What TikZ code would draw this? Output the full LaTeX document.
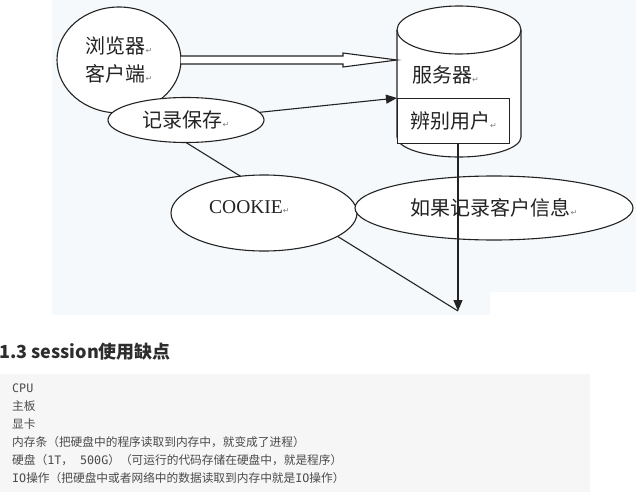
\documentclass[tikz,border=0pt]{standalone}
\usepackage{fontspec}
\setmainfont{Noto Sans CJK SC}
\newfontfamily\cjk{Noto Sans CJK SC}
\newfontfamily\mono{DejaVu Sans Mono}
\newfontfamily\tnr{Liberation Serif}
\newfontfamily\djv{DejaVu Sans}
\usetikzlibrary{shapes.geometric,arrows.meta,calc}
\definecolor{imgbg}{RGB}{245,249,252}
\definecolor{codebg}{RGB}{246,246,246}
\definecolor{ink}{RGB}{35,35,35}
\definecolor{codeink}{RGB}{75,75,75}
\definecolor{headink}{RGB}{45,45,45}
\newcommand{\retmark}{{\djv\fontsize{8}{8}\selectfont\color{gray}↵}}
\pgfdeclarelayer{back}
\pgfdeclarelayer{under}
\pgfsetlayers{back,under,main}
\tikzset{
  ell/.style={ellipse, draw=ink, fill=white, line width=1.1pt, inner sep=0pt, outer sep=0pt,
    font=\fontsize{20}{28}\selectfont, text=ink},
  conn/.style={draw=ink, line width=1.1pt},
  headtip/.style={-{Triangle[length=11pt,width=9pt]}},
  codeline/.style={anchor=west, inner sep=0pt, text=codeink, font=\fontsize{11.7}{11.7}\selectfont},
  lbl/.style={anchor=west, inner sep=0pt, text=ink, font=\fontsize{20}{24}\selectfont}
}
\begin{document}
\begin{tikzpicture}[x=1pt,y=-1pt]
\useasboundingbox (0,0) rectangle (639,492);
\begin{pgfonlayer}{back}
  \fill[imgbg] (52,0) rectangle (636,315);
  \fill[white] (490,292) rectangle (636,315);
  \fill[codebg] (0,374) rectangle (590,492);
\end{pgfonlayer}

% browser
\node[ell, minimum width=124pt, minimum height=106pt, align=center] (browser) at (119,60)
  {浏览器\retmark\\客户端\retmark};

% server cylinder
\coordinate (srvL) at (397,60);
\coordinate (tip) at (458,311);
\draw[conn, fill=white] (397,30) -- (397,137)
  arc[start angle=180, end angle=360, x radius=62pt, y radius=20pt] -- (521,30)
  arc[start angle=0, end angle=180, x radius=62pt, y radius=24pt] -- cycle;
\draw[conn] (397,30) arc[start angle=180, end angle=360, x radius=62pt, y radius=24pt];
\node[lbl] (srvtext) at (412,75) {服务器\retmark};
\node[draw=ink, fill=white, line width=1.1pt, minimum width=112pt, minimum height=45pt,
  anchor=north west, inner sep=0pt, text=ink, font=\fontsize{20}{24}\selectfont] (ident) at (397,98)
  {辨别用户\retmark};

% hollow double arrow
\draw[conn, fill=white, line join=miter]
  ($(browser.east)+(0,-4)$) -- ($(srvL)+(-54,-4)$) -- ($(srvL)+(-54,-7)$) -- (srvL)
  -- ($(srvL)+(-54,7)$) -- ($(srvL)+(-54,4)$) -- ($(browser.east)+(0,4)$);

% ellipses
\node[ell, minimum width=156pt, minimum height=45pt] (rec) at (186,120) {记录保存\retmark};
\node[ell, minimum width=186pt, minimum height=76pt] (cookie) at (264,213) {};
\node[anchor=west, inner sep=0pt, text=ink, font=\tnr\fontsize{19.5}{19.5}\selectfont] (cookietext) at (209,207) {COOKIE\retmark};
\node[ell, minimum width=278pt, minimum height=64pt] (ifrec) at (494,208) {如果记录客户信息\retmark};

\begin{pgfonlayer}{under}
  \draw[conn, headtip] (rec) -- (ident.north west);
  \draw[conn] (rec.south) -- (tip);
\end{pgfonlayer}

\draw[conn, headtip] (ident.south -| tip) -- (tip);

% lower text
\node[anchor=west, inner sep=0pt, text=headink, font=\cjk\bfseries\fontsize{18}{18}\selectfont] (title) at (-1,352) {1.3 session使用缺点};
\node[codeline] (c1) at (12,388) {\mono CPU};
\node[codeline] (c2) at (12,406) {主板};
\node[codeline] (c3) at (12,424) {显卡};
\node[codeline] (c4) at (12,442) {内存条（把硬盘中的程序读取到内存中，就变成了进程）};
\node[codeline] (c5) at (12,460) {硬盘（{\mono 1T}，{\mono\ 500G}）（可运行的代码存储在硬盘中，就是程序）};
\node[codeline] (c6) at (12,478) {{\mono IO}操作（把硬盘中或者网络中的数据读取到内存中就是{\mono IO}操作）};
\end{tikzpicture}
\end{document}
